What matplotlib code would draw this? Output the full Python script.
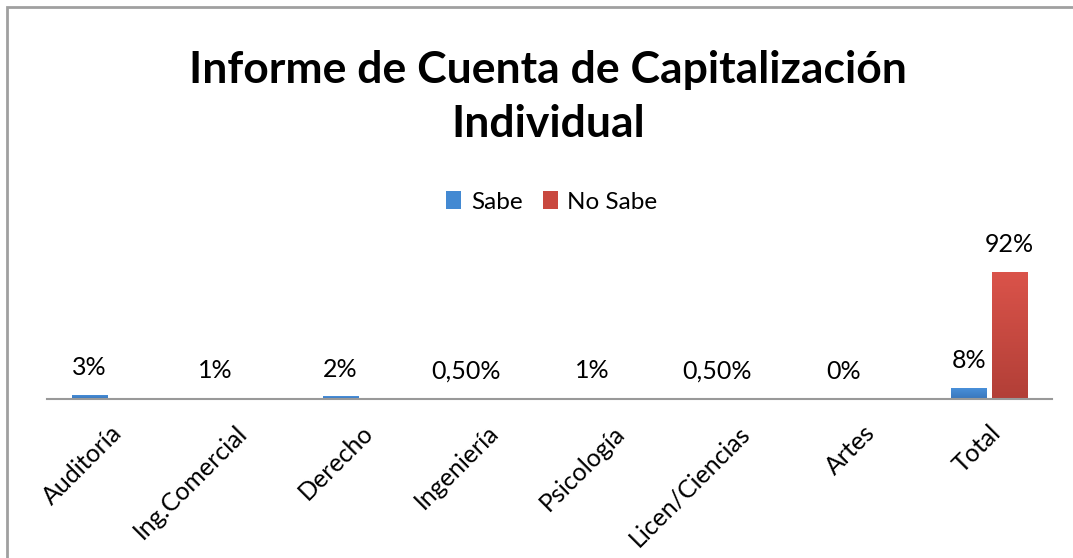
import matplotlib.pyplot as plt
import numpy as np
from matplotlib.patches import Rectangle

categories = ['Auditoría', 'Ing.Comercial', 'Derecho', 'Ingeniería',
              'Psicología', 'Licen/Ciencias', 'Artes', 'Total']
sabe = [3, 1, 2, 0.5, 1, 0.5, 0, 8]
no_sabe = [0, 0, 0, 0, 0, 0, 0, 92]
sabe_labels = ['3%', '1%', '2%', '0,50%', '1%', '0,50%', '0%', '8%']
no_sabe_labels = ['', '', '', '', '', '', '', '92%']

plt.rcParams['font.family'] = ['Lato', 'DejaVu Sans']

W, H = 1073, 558
fig = plt.figure(figsize=(W / 100, H / 100), dpi=100)

# outer frame (runs off the right and bottom edges)
fig.patches.append(Rectangle((7 / W, -0.05), 1.1, (H - 7) / H + 0.05,
                             transform=fig.transFigure, fill=False,
                             edgecolor='#a0a0a0', linewidth=2))

fig.text(548 / W, 1 - 97 / H, 'Informe de Cuenta de Capitalización\nIndividual',
         ha='center', va='center', fontsize=32, fontweight='bold',
         linespacing=1.42)

ax = fig.add_axes([47 / W, 1 - 399 / H, 1005 / W, 138 / H])
x = np.arange(len(categories))
w = 0.28
off = 0.163


def gradient_bars(bars, top, bottom):
    cmap = plt.matplotlib.colors.LinearSegmentedColormap.from_list('g', [bottom, top])
    for b in bars:
        if b.get_height() <= 0:
            continue
        x0, y0 = b.get_x(), b.get_y()
        im = ax.imshow(np.linspace(0, 1, 100).reshape(-1, 1), cmap=cmap,
                       origin='lower', aspect='auto',
                       extent=(x0, x0 + b.get_width(), y0, y0 + b.get_height()),
                       zorder=b.get_zorder() + 0.1)
        im.set_clip_path(b)


b1 = ax.bar(x - off, sabe, w, color='#4389d2', label='Sabe', zorder=2)
b2 = ax.bar(x + off, no_sabe, w, color='#c9483f', label='No Sabe', zorder=2)
gradient_bars(b1, '#4a92dc', '#3a76bb')
gradient_bars(b2, '#da534a', '#b23f37')

for xi, v, t in zip(x - off, sabe, sabe_labels):
    if t:
        ax.annotate(t, (xi, v), xytext=(0, 19.5), textcoords='offset points',
                    ha='center', va='center', fontsize=18)
for xi, v, t in zip(x + off, no_sabe, no_sabe_labels):
    if t:
        ax.annotate(t, (xi, v), xytext=(0, 19.5), textcoords='offset points',
                    ha='center', va='center', fontsize=18)

ax.set_xlim(-0.5, len(categories) - 0.5)
ax.set_ylim(0, 100)
ax.set_xticks(x)
ax.set_xticklabels(categories, rotation=45, ha='right', va='top',
                   rotation_mode='anchor', fontsize=18)
ax.tick_params(axis='x', length=0, pad=16)
ax.set_yticks([])
for s in ['top', 'right', 'left']:
    ax.spines[s].set_visible(False)
ax.spines['bottom'].set_color('#999999')
ax.spines['bottom'].set_linewidth(1.5)
ax.set_facecolor('none')

fig.legend(handles=[b1, b2], loc='center', bbox_to_anchor=(552 / W, 1 - 202 / H),
           ncol=2, frameon=False, fontsize=17.5, handlelength=0.6,
           handleheight=0.7, handletextpad=0.4, columnspacing=0.85)

fig.savefig('out.png', dpi=100)
